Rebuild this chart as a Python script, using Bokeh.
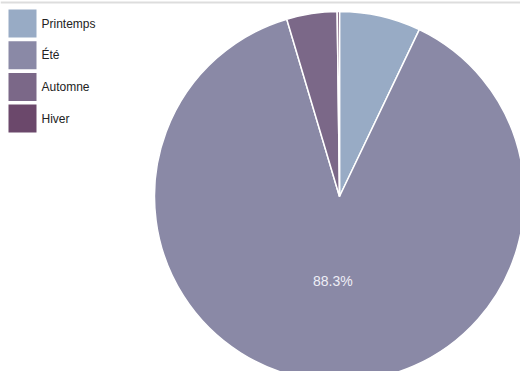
import math
from bokeh.plotting import figure
from bokeh.models import Range1d, Span, ColumnDataSource
from bokeh.core.properties import value
from bokeh.embed import file_html
from bokeh.resources import INLINE

# data
seasons = ["Printemps", "Été", "Automne", "Hiver"]
shares = [7.1, 88.3, 4.4, 0.2]
colors = ["#98abc5", "#8a89a6", "#7b6888", "#6b486b"]

W, H = 520, 371
p = figure(width=W, height=H, x_range=Range1d(0, W), y_range=Range1d(0, H),
           output_backend="svg", toolbar_location=None, min_border=0)
p.axis.visible = False
p.grid.visible = False
p.outline_line_color = None
p.background_fill_color = "white"
p.border_fill_color = "white"

cx, cy, r = 339, H - 196, 185
total = sum(shares)
starts, ends, acc = [], [], 0.0
for s in shares:
    a0 = acc / total * 2 * math.pi
    acc += s
    a1 = acc / total * 2 * math.pi
    starts.append(math.pi / 2 - a0)
    ends.append(math.pi / 2 - a1)

src = ColumnDataSource(dict(start=starts, end=ends, color=colors, name=seasons))
p.wedge(x=cx, y=cy, radius=r, radius_units="screen", start_angle="start", end_angle="end",
        direction="clock", fill_color="color", line_color="white", line_width=1.5, source=src)

# percentage labels for large slices
lx, ly, lt = [], [], []
acc = 0.0
for s in shares:
    mid = (acc + s / 2) / total * 2 * math.pi
    acc += s
    if s / total > 0.2:
        lx.append(cx + 0.46 * r * math.sin(mid))
        ly.append(cy + 0.46 * r * math.cos(mid))
        lt.append(f"{s:.1f}%")
p.text(x=lx, y=ly, text=lt, text_align="center", text_baseline="middle",
       text_color="#eeeef6", text_font=value("Liberation Sans"), text_font_size="14px")

# legend
gx, gy0, step, sz = 8, H - 9, 31.7, 28
lgx = [gx + sz / 2] * len(seasons)
lgy = [gy0 - i * step - sz / 2 for i in range(len(seasons))]
p.rect(x=lgx, y=lgy, width=sz, height=sz, width_units="screen", height_units="screen",
       fill_color=colors, line_color=None)
p.text(x=[gx + sz + 5] * len(seasons), y=lgy, text=seasons, text_baseline="middle",
       text_color="#222222", text_font=value("Liberation Sans"), text_font_size="12px")

p.add_layout(Span(location=H - 2, dimension="width", line_color="#dddddd", line_width=2))

open("out.html", "w").write(file_html(p, INLINE))
